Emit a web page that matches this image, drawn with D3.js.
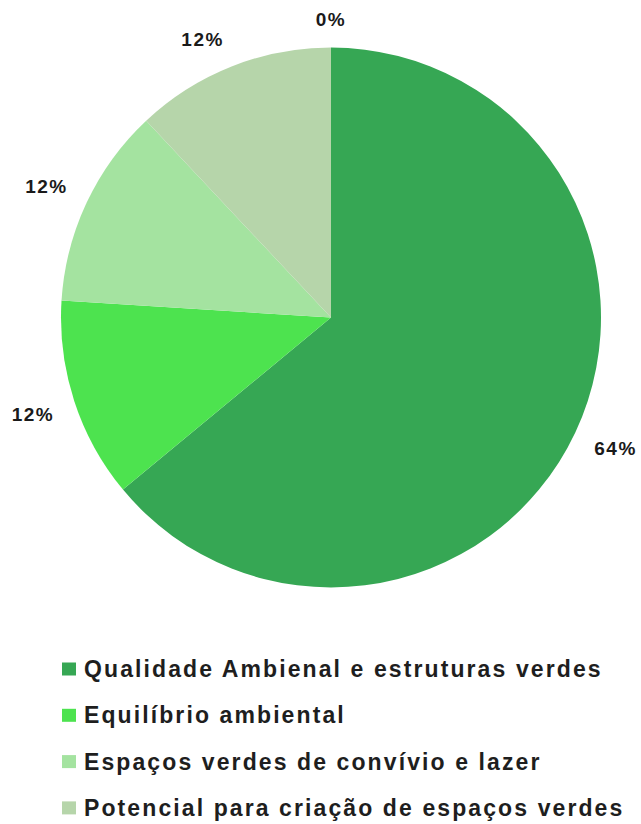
<!DOCTYPE html>
<html>
<head>
<meta charset="utf-8">
<script src="https://cdn.jsdelivr.net/npm/d3@7"></script>
<style>
  html, body { margin: 0; padding: 0; background: #fff; }
  svg { display: block; font-family: "Liberation Sans", Arial, sans-serif; }
</style>
</head>
<body>
<svg id="chart" width="641" height="824"></svg>
<script>
// Share of responses per theme
const categories = [
  "Qualidade Ambienal e estruturas verdes",
  "Equilíbrio ambiental",
  "Espaços verdes de convívio e lazer",
  "Potencial para criação de espaços verdes",
  "Outro"
];
const values = [64, 12, 12, 12, 0];
const labels = ["64%", "12%", "12%", "12%", "0%"];
const colors = ["#36a754", "#4de34f", "#a4e3a0", "#b6d5aa", "#cfe6c6"];
const legendCount = 4;

const svg = d3.select("#chart");
const cx = 331, cy = 317.5, radius = 270;

const pie = d3.pie().sort(null).value(d => d)(values);
const arc = d3.arc().innerRadius(0).outerRadius(radius);

const g = svg.append("g").attr("transform", `translate(${cx},${cy})`);

g.selectAll("path.slice")
  .data(pie)
  .join("path")
  .attr("class", "slice")
  .attr("d", arc)
  .attr("fill", (d, i) => colors[i]);

// Percentage labels: the label box's nearest corner touches a point just outside the rim
const labelGap = 21;
const fontSize = 19;
const halfH = 7;
const lbl = g.selectAll("text.pct")
  .data(pie)
  .join("text")
  .attr("class", "pct")
  .attr("font-size", fontSize)
  .attr("font-weight", "bold")
  .attr("letter-spacing", 1.5)
  .attr("fill", "#1a1a1a")
  .attr("text-anchor", "middle")
  .attr("dominant-baseline", "central")
  .text((d, i) => labels[i]);

lbl.each(function (d) {
  const a = (d.startAngle + d.endAngle) / 2;
  const w = this.getComputedTextLength();
  const s = Math.sin(a), c = Math.cos(a);
  const sx = Math.abs(s) < 1e-6 ? 0 : Math.sign(s);
  const sy = Math.abs(c) < 1e-6 ? 0 : Math.sign(c);
  const px = s * (radius + labelGap) + sx * w / 2;
  const py = -c * (radius + labelGap) - sy * halfH;
  d3.select(this).attr("x", px).attr("y", py);
});

// Legend
const legend = svg.append("g").attr("transform", "translate(62,669)");
const rowH = 46.3;
const items = legend.selectAll("g.item")
  .data(categories.slice(0, legendCount))
  .join("g")
  .attr("class", "item")
  .attr("transform", (d, i) => `translate(0,${i * rowH})`);

items.append("rect")
  .attr("x", 0).attr("y", -6.5)
  .attr("width", 14).attr("height", 13)
  .attr("fill", (d, i) => colors[i]);

items.append("text")
  .attr("x", 22)
  .attr("y", 0)
  .attr("dominant-baseline", "central")
  .attr("font-size", 23)
  .attr("font-weight", "bold")
  .attr("letter-spacing", 2.1)
  .attr("fill", "#1e1e1e")
  .text(d => d);
</script>
</body>
</html>
